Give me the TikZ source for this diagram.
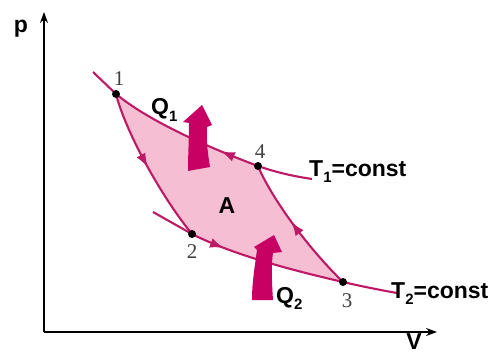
\documentclass[tikz,border=0pt]{standalone}
\usepackage{fontspec}
\setmainfont{Liberation Sans}
\newfontfamily\numfont{Liberation Serif}
\usetikzlibrary{arrows.meta,decorations.markings}
\definecolor{curvecol}{RGB}{190,25,100}
\definecolor{fillpink}{RGB}{245,190,210}
\definecolor{bigarrow}{RGB}{200,0,100}
\newcommand{\lowsub}[1]{\raisebox{-0.3em}{\fontsize{15}{15}\selectfont #1}}
\begin{document}
\begin{tikzpicture}[x=1pt,y=-1pt,
  curveline/.style={draw=curvecol,line width=2.1pt},
  midarrow/.style={postaction={decorate},decoration={markings,mark=at position #1 with {\arrow{Latex[length=14pt,width=10pt]}}}},
  dot/.style={circle,fill=black,inner sep=0pt,minimum size=8pt},
  lbl/.style={font=\bfseries\fontsize{23}{23}\selectfont,inner sep=0pt},
  num/.style={font=\numfont\fontsize{21}{21}\selectfont,text=black!75,inner sep=0pt},
  axisline/.style={line width=1.2pt,-{Stealth[length=11pt,width=8pt]}},
  heat/.style={fill=bigarrow,draw=none}
]
\useasboundingbox (0,0) rectangle (496,353);

% axes
\coordinate (O) at (44,332);
\coordinate (ytop) at (44,12);
\coordinate (xend) at (437,332);
\draw[axisline] (O) -- (ytop);
\draw[axisline] (O) -- (xend);
\node[lbl,anchor=base] (plabel) at (21,33) {p};
\node[lbl,anchor=base] (vlabel) at (414,349) {V};

% state points
\coordinate (p1) at (116,94);
\coordinate (p4) at (258,166);
\coordinate (p2) at (192,234);
\coordinate (p3) at (343,282);
\coordinate (t1s) at (93,72);
\coordinate (t1e) at (312,179);
\coordinate (t2s) at (153,212);
\coordinate (t2e) at (397,293);

% fill
\fill[fillpink] (p1) .. controls (125,130) and (160,195) .. (p2)
  .. controls (235,256) and (300,272) .. (p3)
  .. controls (305,245) and (270,195) .. (p4)
  .. controls (210,148) and (150,122) .. (p1) -- cycle;

% isotherm ends
\draw[curveline] (t1s) -- (p1);
\draw[curveline] (p4) .. controls (275,172) and (292,176) .. (t1e);
\draw[curveline] (t2s) -- (p2);
\draw[curveline] (p3) .. controls (360,286) and (380,290) .. (t2e);

% cycle
\draw[curveline,midarrow=0.5] (p1) .. controls (125,130) and (160,195) .. (p2);
\draw[curveline,midarrow=0.22] (p2) .. controls (235,256) and (300,272) .. (p3);
\draw[curveline,midarrow=0.55] (p3) .. controls (305,245) and (270,195) .. (p4);
\draw[curveline,midarrow=0.25] (p4) .. controls (210,148) and (150,122) .. (p1);

% heat arrows
\fill[heat] (188,171) -- (210,167) .. controls (208,155) and (206,140) .. (207,127)
  -- (212,125) -- (202,105) -- (183,122) -- (189,123)
  .. controls (189,140) and (188,155) .. cycle;
\fill[heat] (252,300) -- (273,300) .. controls (272,285) and (271,265) .. (273,253)
  -- (282,252) -- (274,235) -- (254,247) -- (257,250)
  .. controls (255,265) and (252,282) .. cycle;

% dots
\node[dot] (d1) at (p1) {};
\node[dot] (d2) at (p2) {};
\node[dot] (d3) at (p3) {};
\node[dot] (d4) at (p4) {};

% labels
\node[num,anchor=base] (n1) at (119,86) {1};
\node[num,anchor=base] (n4) at (260,158) {4};
\node[num,anchor=base] (n2) at (192,258) {2};
\node[num,anchor=base] (n3) at (347,307) {3};
\node[lbl,anchor=base] (alabel) at (227,213) {A};
\node[lbl,anchor=base west] (q1) at (151,115) {Q\lowsub{1}};
\node[lbl,anchor=base west] (q2) at (276,303) {Q\lowsub{2}};
\node[lbl,anchor=base west] (tt1) at (309,176) {T\lowsub{1}=const};
\node[lbl,anchor=base west] (tt2) at (391,298) {T\lowsub{2}=const};
\end{tikzpicture}
\end{document}
